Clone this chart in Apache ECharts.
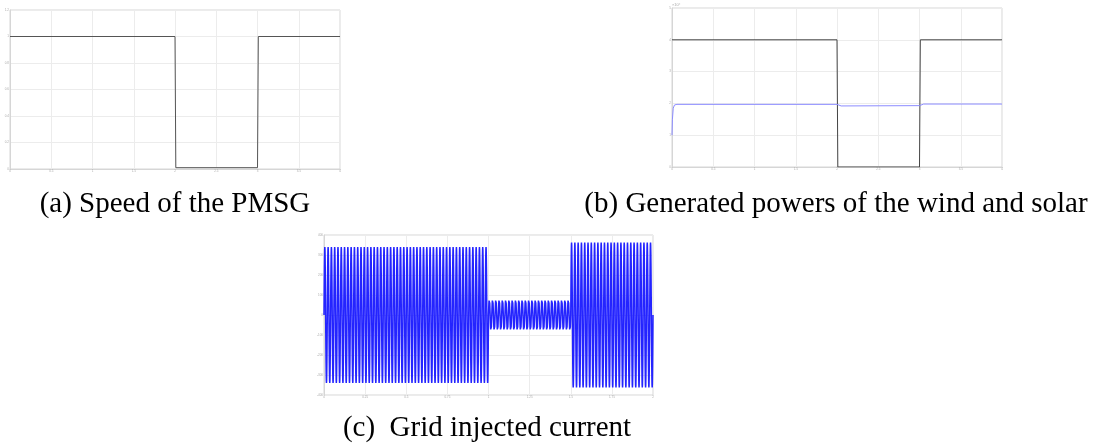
<!DOCTYPE html>
<html>
<head>
<meta charset="utf-8">
<script src="https://cdn.jsdelivr.net/npm/echarts@6/dist/echarts.min.js"></script>
<style>
  html, body { margin: 0; padding: 0; background: #fff; }
  #main { width: 1102px; height: 447px; }
</style>
</head>
<body>
<div id="main"></div>
<script>
// (a) PMSG speed
var speedT = [0, 2, 2.01, 3, 3.01, 4];
var speedV = [1, 1, 0.01, 0.01, 1, 1];

// (b) wind (black) and solar (blue) power, x10^4
var windT = [0, 2, 2.01, 3, 3.01, 4];
var windP = [4, 4, 0, 0, 4, 4];
var solarT = [0, 0.005, 0.015, 0.03, 0.06, 2.0, 2.05, 3.0, 3.05, 4.0];
var solarP = [1.0, 1.5, 1.85, 1.95, 1.97, 1.97, 1.92, 1.93, 1.98, 1.98];

// (c) grid current: envelope
var currentSegStart = [0, 1.0, 1.5];
var currentSegEnd = [1.0, 1.5, 2.0];
var currentSegAmp = [340, 83, 362];
var currentFreq = 50;   // ~100 cycles over 2 s

var myChart = echarts.init(document.getElementById('main'));

function pairs(xs, ys) {
  var out = [];
  for (var i = 0; i < xs.length; i++) out.push([xs[i], ys[i]]);
  return out;
}

// build the current waveform from the envelope segments
var currentData = [];
var perCycle = 24;
for (var s = 0; s < currentSegStart.length; s++) {
  var n = Math.round((currentSegEnd[s] - currentSegStart[s]) * currentFreq * perCycle);
  for (var k = 0; k <= n; k++) {
    var t = currentSegStart[s] + k / (currentFreq * perCycle);
    currentData.push([t, currentSegAmp[s] * Math.sin(2 * Math.PI * currentFreq * t)]);
  }
}

var gridColor = '#ececec';
var frameColor = '#d6d6d6';
var tinyLabel = { fontSize: 3, color: '#aaa', margin: 1 };

function xAx(gi, max, interval) {
  return {
    type: 'value', gridIndex: gi, min: 0, max: max, interval: interval,
    axisLine: { lineStyle: { color: frameColor } },
    axisTick: { show: false },
    axisLabel: tinyLabel,
    splitLine: { lineStyle: { color: gridColor } }
  };
}
function yAx(gi, min, max, interval, name) {
  return {
    type: 'value', gridIndex: gi, min: min, max: max, interval: interval,
    name: name || '', nameGap: 1,
    nameTextStyle: { fontSize: 4, color: '#aaa', align: 'left', padding: [0, 0, 0, 0] },
    axisLine: { show: true, lineStyle: { color: frameColor } },
    axisTick: { show: false },
    axisLabel: tinyLabel,
    splitLine: { lineStyle: { color: gridColor } }
  };
}

var captionFont = '29px "Liberation Serif", "Times New Roman", serif';

var option = {
  animation: false,
  backgroundColor: '#fff',
  grid: [
    { left: 10, top: 10, width: 330, height: 159, show: true, borderColor: frameColor, borderWidth: 1 },
    { left: 672, top: 8, width: 330, height: 159, show: true, borderColor: frameColor, borderWidth: 1 },
    { left: 324, top: 235, width: 329, height: 160, show: true, borderColor: frameColor, borderWidth: 1 }
  ],
  xAxis: [
    xAx(0, 4, 0.5),
    xAx(1, 4, 0.5),
    xAx(2, 2, 0.25)
  ],
  yAxis: [
    yAx(0, 0, 1.2, 0.2),
    yAx(1, 0, 5, 1, '×10⁴'),
    yAx(2, -400, 400, 100)
  ],
  series: [
    {
      type: 'line', xAxisIndex: 0, yAxisIndex: 0, showSymbol: false,
      lineStyle: { color: '#555', width: 1 },
      data: pairs(speedT, speedV)
    },
    {
      type: 'line', xAxisIndex: 1, yAxisIndex: 1, showSymbol: false,
      lineStyle: { color: '#444', width: 1 },
      data: pairs(windT, windP)
    },
    {
      type: 'line', xAxisIndex: 1, yAxisIndex: 1, showSymbol: false,
      lineStyle: { color: '#8c8cff', width: 1 },
      data: pairs(solarT, solarP)
    },
    {
      type: 'line', xAxisIndex: 2, yAxisIndex: 2, showSymbol: false,
      sampling: null,
      lineStyle: { color: '#2424ff', width: 1.5 },
      data: currentData
    }
  ],
  graphic: [
    { type: 'text', x: 175, y: 204, style: { text: '(a) Speed of the PMSG', font: captionFont, fill: '#000', textAlign: 'center', textVerticalAlign: 'middle' } },
    { type: 'text', x: 836, y: 204, style: { text: '(b) Generated powers of the wind and solar', font: captionFont, fill: '#000', textAlign: 'center', textVerticalAlign: 'middle' } },
    { type: 'text', x: 487, y: 428, style: { text: '(c)  Grid injected current', font: captionFont, fill: '#000', textAlign: 'center', textVerticalAlign: 'middle' } }
  ]
};

myChart.setOption(option);
</script>
</body>
</html>
